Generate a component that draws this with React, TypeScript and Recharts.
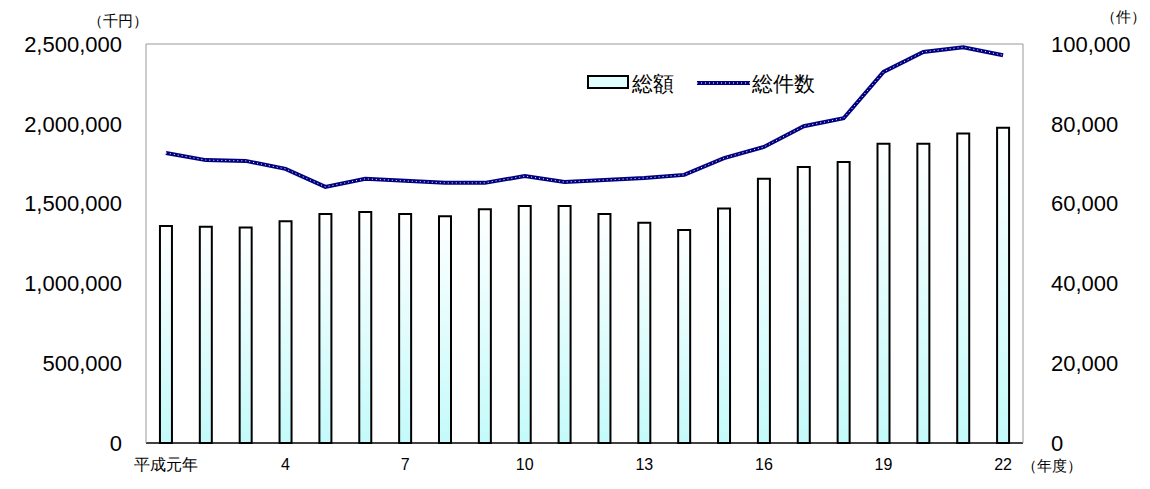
import React from 'react'
import { ComposedChart, Bar, Line, XAxis, YAxis, Customized } from 'recharts'

const years = ['平成元年', '2', '3', '4', '5', '6', '7', '8', '9', '10', '11', '12', '13', '14', '15', '16', '17', '18', '19', '20', '21', '22']
const totalAmount = [1360000, 1355000, 1350000, 1390000, 1435000, 1447000, 1435000, 1420000, 1465000, 1485000, 1485000, 1435000, 1380000, 1335000, 1470000, 1655000, 1730000, 1760000, 1875000, 1875000, 1940000, 1975000]
const totalCount = [72700, 70900, 70700, 68700, 64200, 66200, 65700, 65200, 65200, 66900, 65400, 65900, 66400, 67200, 71400, 74200, 79400, 81400, 93000, 98000, 99200, 97200]
const leftTicks = [0, 500000, 1000000, 1500000, 2000000, 2500000]
const rightTicks = [0, 20000, 40000, 60000, 80000, 100000]

const data = years.map((y, i) => ({ year: y, amount: totalAmount[i], count: totalCount[i] }))
const font = '"Liberation Sans", Arial, sans-serif'
const fmt = (v: number) => v.toLocaleString('en-US')

const Legend = () => (
  <g fontFamily={font} fontSize={21} fill="#000">
    <rect x={588} y={76} width={40} height={12} fill="#e0ffff" stroke="#000" strokeWidth={2} />
    <text x={632} y={91}>総額</text>
    <line x1={697} y1={83} x2={750} y2={83} stroke="#000080" strokeWidth={4} />
    <line x1={697} y1={83} x2={750} y2={83} stroke="#fff" strokeWidth={1} strokeDasharray="1 3" />
    <text x={752} y={91}>総件数</text>
    <text x={88} y={26} fontSize={15}>（千円）</text>
    <text x={1146} y={22} fontSize={15} textAnchor="end">（件）</text>
    <text x={1022} y={471} fontSize={15}>（年度）</text>
  </g>
)

export default function App() {
  return (
    <div style={{ position: 'absolute', left: 0, top: 0, background: '#fff' }}>
      <ComposedChart width={1150} height={489} data={data} margin={{ top: 44, right: 0, bottom: 0, left: 0 }} barCategoryGap="35%">
        <defs>
          <linearGradient id="barFill" x1="0" y1="0" x2="0" y2="1">
            <stop offset="0%" stopColor="#ffffff" />
            <stop offset="100%" stopColor="#c4fafa" />
          </linearGradient>
        </defs>
        <XAxis dataKey="year" interval={2} tickLine={false} axisLine={{ stroke: '#000', strokeWidth: 1.5 }} height={46}
          tick={{ fill: '#000', fontSize: 16, fontFamily: font }} tickMargin={10} />
        <YAxis yAxisId="l" domain={[0, 2500000]} ticks={leftTicks} tickFormatter={fmt} width={146} tickLine={false}
          axisLine={{ stroke: '#999' }} tick={{ fill: '#000', fontSize: 22, fontFamily: font }} tickMargin={18} />
        <YAxis yAxisId="r" orientation="right" domain={[0, 100000]} ticks={rightTicks} tickFormatter={fmt} width={127}
          tickLine={false} axisLine={{ stroke: '#999' }} tick={{ fill: '#000', fontSize: 22, fontFamily: font, textAnchor: 'start' }} tickMargin={22} />
        <Bar yAxisId="l" dataKey="amount" fill="url(#barFill)" stroke="#000" strokeWidth={2} isAnimationActive={false} />
        <Line yAxisId="r" dataKey="count" stroke="#000080" strokeWidth={4} dot={false} isAnimationActive={false} />
        <Line yAxisId="r" dataKey="count" stroke="#fff" strokeWidth={1} strokeDasharray="1 3" dot={false} isAnimationActive={false} />
        <Customized component={Legend} />
        <line x1={146} y1={44} x2={1023} y2={44} stroke="#999" />
      </ComposedChart>
    </div>
  )
}
